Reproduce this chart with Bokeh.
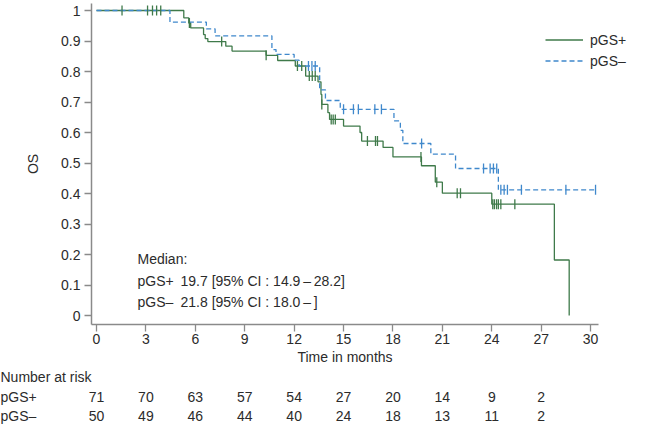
import numpy as np
from bokeh.plotting import figure
from bokeh.models import Range1d, FixedTicker, CustomJSTickFormatter, Legend, LegendItem
from bokeh.core.properties import value
from bokeh.embed import file_html
from bokeh.resources import INLINE

# ---------------- data ----------------
pos_times = [0, 5.3, 5.6, 5.72, 6.5, 6.6, 6.76, 7.85, 8.23, 10.3, 11.0, 12.07, 12.7, 13.45,
             13.63, 13.68, 14.05, 14.15, 15.0, 16.0, 16.1, 17.4, 18.0, 19.73, 20.57, 21.0,
             24.0, 27.8, 28.7]
pos_surv = [1.0, 0.976, 0.959, 0.943, 0.921, 0.908, 0.898, 0.883, 0.867, 0.853, 0.836, 0.818,
            0.785, 0.766, 0.725, 0.692, 0.665, 0.643, 0.621, 0.600, 0.572, 0.551, 0.520, 0.491,
            0.437, 0.401, 0.365, 0.182, 0.0]
pos_cens = [1.55, 3.1, 3.4, 3.65, 3.9, 5.64, 7.6, 10.3, 12.2, 12.46, 12.92, 13.1, 13.28,
            13.68, 14.25, 14.37, 14.5, 16.45, 16.94, 17.06, 19.7, 20.66, 21.9, 22.1, 24.06,
            24.16, 24.29, 24.4, 24.55, 25.4]

neg_times = [0, 4.46, 6.67, 7.2, 10.65, 10.9, 12.0, 12.3, 13.55, 13.9, 14.8, 18.06, 18.45,
             18.6, 20.3, 21.8, 24.4, 30.3]
neg_surv = [1.0, 0.962, 0.94, 0.917, 0.872, 0.856, 0.837, 0.818, 0.74, 0.705, 0.676, 0.638,
            0.607, 0.564, 0.529, 0.482, 0.412, 0.412]
neg_cens = [12.87, 13.08, 13.28, 15.0, 15.6, 15.9, 16.9, 17.3, 19.74, 23.5, 23.9, 24.1,
            24.3, 24.55, 24.75, 24.95, 25.8, 28.5, 30.3]

x_ticks = [0, 3, 6, 9, 12, 15, 18, 21, 24, 27, 30]
y_ticks = [0, 0.1, 0.2, 0.3, 0.4, 0.5, 0.6, 0.7, 0.8, 0.9, 1.0]

risk_times = [0, 3, 6, 9, 12, 15, 18, 21, 24, 27]
risk_pos = [71, 70, 63, 57, 54, 27, 20, 14, 9, 2]
risk_neg = [50, 49, 46, 44, 40, 24, 18, 13, 11, 2]

group_names = ["pGS+", "pGS\u2013"]
median_vals = ["19.7 [95% CI : 14.9\u2009\u2013\u200928.2]", "21.8 [95% CI : 18.0\u2009\u2013\u2009]"]

# ---------------- styling / layout ----------------
FONT = "Liberation Sans"
FS = "14px"
TXT = "#2b2b2b"
GREEN = "#3f7a4a"
BLUE = "#3f88cc"
AX = "#8a8a8a"

W, H = 663, 424
PX0, PXM = 96.0, 16.47          # pixel of month 0, pixels per month
PY1, PY0 = 10.0, 315.0          # pixel of OS=1 and OS=0
PPU = PY0 - PY1
AXIS_X, AXIS_Y = 91, 324        # pixel positions of the y and x axis lines

def mx(px):
    return (px - PX0) / PXM

def vy(py):
    return (PY0 - py) / PPU

# the frame covers the whole canvas; axes sit at fixed data locations inside it
p = figure(width=W, height=H, output_backend="svg", toolbar_location=None,
           x_range=Range1d(mx(0), mx(W)), y_range=Range1d(vy(H), vy(0)),
           min_border_left=0, min_border_right=0, min_border_top=0, min_border_bottom=0)
p.outline_line_color = None
p.xgrid.visible = False
p.ygrid.visible = False

for ax in (p.xaxis[0], p.yaxis[0]):
    ax.axis_line_color = AX
    ax.axis_line_width = 1.5
    ax.major_tick_line_color = AX
    ax.major_tick_line_width = 1.3
    ax.minor_tick_line_color = None
    ax.major_tick_in = 0
    ax.major_tick_out = 7
    ax.major_label_text_font = FONT
    ax.major_label_text_font_size = FS
    ax.major_label_text_color = TXT
    ax.axis_label_text_font = FONT
    ax.axis_label_text_font_size = FS
    ax.axis_label_text_font_style = "normal"
    ax.axis_label_text_color = TXT

p.xaxis.fixed_location = vy(AXIS_Y)
p.yaxis.fixed_location = mx(AXIS_X)
p.xaxis.ticker = FixedTicker(ticks=x_ticks)
p.yaxis.ticker = FixedTicker(ticks=y_ticks)
p.yaxis.formatter = CustomJSTickFormatter(code="return tick.toFixed(1).replace(/\\.0$/, '');")
p.xaxis.axis_label = "Time in months"
p.yaxis.axis_label = "OS"
p.xaxis.bounds = (mx(AXIS_X), mx(598))
p.yaxis.bounds = (vy(AXIS_Y), vy(3))
p.xaxis.major_label_standoff = 2
p.xaxis.axis_label_standoff = 2
p.yaxis.major_label_standoff = 4
p.yaxis.axis_label_standoff = 17

# curves
r_pos = p.step(pos_times, pos_surv, mode="after", line_color=GREEN, line_width=1.3)
r_neg = p.step(neg_times, neg_surv, mode="after", line_color=BLUE, line_width=1.3, line_dash="5 3")

def surv_at(times, surv, t):
    idx = np.searchsorted(np.array(times), np.array(t), side="right") - 1
    return np.array(surv)[idx]

p.scatter(pos_cens, surv_at(pos_times, pos_surv, pos_cens), marker="dash", angle=np.pi / 2,
          size=10, line_color=GREEN, line_width=1.3)
p.scatter(neg_cens, surv_at(neg_times, neg_surv, neg_cens), marker="dash", angle=np.pi / 2,
          size=10, line_color=BLUE, line_width=1.3)

legend = Legend(items=[LegendItem(label=group_names[0], renderers=[r_pos]),
                       LegendItem(label=group_names[1], renderers=[r_neg])],
                location=(545, H - 69), orientation="vertical",
                glyph_width=38, glyph_height=17, label_height=17, label_standoff=7,
                spacing=4, padding=0, margin=0,
                label_text_font=FONT, label_text_font_size=FS, label_text_color=TXT,
                border_line_color=None, background_fill_alpha=0)
p.add_layout(legend)

def txt(x, y, s, align="left"):
    p.text(x=x, y=y, text=s, text_font=value(FONT), text_font_size=value(FS),
           text_color=TXT, text_align=align, text_baseline="middle")

# median block
txt([mx(137)], [vy(258)], ["Median:"])
txt([mx(137)] * 2, [vy(280), vy(301)], group_names)
txt([mx(180)] * 2, [vy(280), vy(301)], median_vals)

# number-at-risk table
row_y = [vy(376), vy(396), vy(415)]
txt([mx(0)], [row_y[0]], ["Number at risk"])
txt([mx(0)] * 2, row_y[1:], group_names)
txt(risk_times, [row_y[1]] * len(risk_times), [str(v) for v in risk_pos], align="center")
txt(risk_times, [row_y[2]] * len(risk_times), [str(v) for v in risk_neg], align="center")

open("out.html", "w").write(file_html(p, INLINE))
